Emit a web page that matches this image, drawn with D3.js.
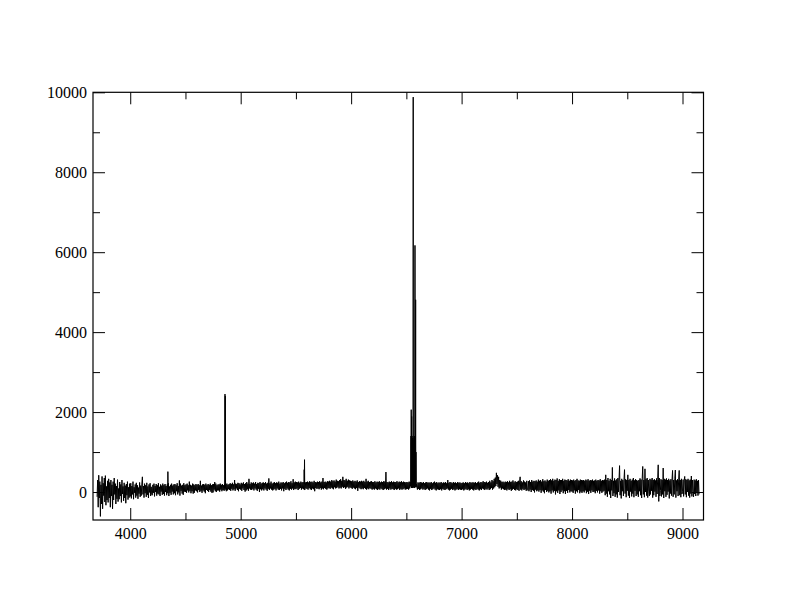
<!DOCTYPE html>
<html><head><meta charset="utf-8">
<script src="https://cdn.jsdelivr.net/npm/d3@7"></script>
<style>
html,body{margin:0;padding:0;background:#fff;}
svg{display:block;}
</style></head><body>
<svg id="c" width="792" height="612"></svg>
<script>
// ---- data ----
const xMajorTicks = [4000, 5000, 6000, 7000, 8000, 9000];
const xMinorTicks = [4500, 5500, 6500, 7500, 8500];
const yMajorTicks = [0, 2000, 4000, 6000, 8000, 10000];
const yMinorTicks = [1000, 3000, 5000, 7000, 9000];

// continuum sampled every 5 Å from 3700 Å (one row = 100 Å)
const specStart = 3700, specStep = 5;
const flux = [
 -120,300,-380,420,-150,260,-610,180,-300,390,-420,220,-90,350,-250,410,-330,140,-200,280,
 -260,330,-150,240,-380,300,-100,180,-420,260,-200,350,-60,210,-300,150,-170,310,-240,90,
 -180,250,-100,190,-260,300,-50,140,-220,230,-150,160,-280,200,-80,260,-190,120,-140,210,
 -110,220,-160,150,-60,260,-180,120,-20,190,-140,230,-90,170,-170,110,-40,240,-120,160,
 -90,200,380,-60,150,-140,210,-30,170,-120,230,-70,140,-150,190,-10,220,-100,130,-60,
 -80,180,-20,210,-110,150,0,200,-90,170,-40,220,-60,130,-100,190,10,160,-70,210,
 -50,170,-90,200,0,150,-80,190,-30,220,-100,140,-20,180,-70,210,10,160,-60,190,
 -30,200,-80,170,20,220,-60,150,-10,290,-90,210,30,160,-40,180,-70,220,10,170,
 0,190,-20,210,40,170,-10,260,30,180,-30,160,20,210,-40,190,-20,170,40,200,
 20,180,-10,200,50,170,0,280,30,160,-20,190,40,200,10,180,-30,210,50,170,
 30,200,0,180,50,210,10,170,-20,190,-10,200,60,250,20,210,0,170,40,190,
 40,190,10,210,60,180,20,200,50,170,30,200,60,190,20,210,40,180,70,200,
 50,220,30,200,80,230,40,190,70,300,30,210,90,200,50,230,20,220,80,190,
 60,230,30,210,90,240,50,200,10,220,40,250,70,210,30,330,90,200,60,240,
 50,220,80,240,40,210,90,250,60,200,30,230,80,220,0,250,70,210,40,230,
 70,240,40,220,90,250,60,210,30,230,80,340,50,220,90,260,60,210,40,230,
 60,250,80,220,40,240,90,230,60,260,50,210,80,240,40,230,90,250,20,220,
 80,240,50,260,90,230,60,250,40,240,80,270,60,220,90,320,50,240,80,260,
 70,250,90,240,50,260,80,230,100,260,60,240,90,250,70,270,50,240,90,250,
 80,260,60,240,100,270,70,250,50,260,90,240,70,280,20,250,100,240,80,260,
 90,250,70,270,100,240,60,260,90,350,70,250,100,260,80,240,60,270,90,260,
 100,280,80,260,110,300,90,270,70,290,120,260,90,310,100,280,130,270,90,300,
 110,320,90,280,130,380,100,300,120,290,80,330,110,280,130,310,90,290,120,280,
 100,270,80,290,110,260,90,280,70,260,100,290,30,250,110,270,90,260,70,280,
 90,260,70,280,100,250,80,330,60,260,90,280,70,250,100,260,80,270,60,250,
 80,250,60,270,90,240,70,260,50,250,80,270,60,240,90,260,70,250,50,270,
 70,260,90,500,60,250,80,240,50,260,90,250,60,270,80,240,70,260,50,250,
 80,250,60,270,70,240,90,260,50,250,80,270,60,240,70,260,90,250,60,240,
 70,250,80,240,60,260,90,250,150,150,1300,130,1400,120,1350,140,1400,1200,200,150,
 60,240,80,230,50,250,70,240,90,230,60,250,80,220,50,240,70,250,90,230,
 60,240,40,230,80,250,50,220,70,240,90,260,60,230,40,250,70,220,60,240,
 50,230,70,250,40,220,80,240,60,230,50,250,70,220,90,300,60,230,40,250,
 60,240,80,220,50,250,70,230,40,240,60,220,80,250,50,230,70,240,60,220,
 50,230,70,240,40,220,60,250,80,230,50,240,70,220,40,250,60,230,80,240,
 60,240,40,230,70,250,50,220,80,240,60,260,40,230,70,250,50,240,90,270,
 70,250,50,240,80,260,60,230,90,250,50,280,70,240,100,300,60,270,90,330,
 120,360,150,480,200,420,130,380,90,300,110,280,60,250,90,260,70,240,50,260,
 60,250,40,270,80,240,50,280,70,250,30,260,60,290,80,240,50,270,40,250,
 70,260,50,280,30,250,380,60,270,40,240,80,290,50,260,70,240,30,280,60,
 40,270,20,290,60,250,0,300,50,260,30,280,-10,270,60,290,20,260,40,310,
 10,280,50,300,-20,260,40,320,10,270,-30,290,50,260,0,310,30,280,-10,300,
 20,320,-40,290,40,330,-10,280,30,310,-60,300,20,340,-20,280,40,320,-50,300,
 0,300,40,330,-30,280,20,310,-50,300,30,290,-20,320,50,280,-10,310,20,300,
 10,290,-20,310,40,280,-40,300,20,330,-10,290,50,280,-30,310,10,300,-20,290,
 20,300,-10,280,40,310,-30,290,10,320,-50,280,30,300,-20,290,40,310,0,280,
 10,290,-30,310,30,280,-10,300,40,290,-40,320,20,280,-20,300,10,290,30,310,
 -80,430,-40,300,-120,350,20,280,-60,330,-150,300,40,615,-100,280,-30,340,-120,290,
 -60,320,-140,350,0,300,660,-80,280,-160,330,20,300,-100,290,560,-40,320,-130,300,
 30,430,-90,300,-150,330,10,280,-110,310,-40,350,-130,290,30,320,-100,300,-60,280,
 -120,300,20,340,-80,310,-150,330,640,-60,300,-130,580,0,320,-90,350,-140,300,20,
 -100,330,-60,310,30,350,-140,300,-80,320,10,290,-120,340,-50,310,680,-235,350,-100,
 40,320,-110,300,-60,600,-150,330,20,310,-120,340,-70,300,10,330,-160,290,-40,320,
 -90,310,540,-120,300,-60,330,550,-140,290,20,320,-100,310,540,-80,300,-130,330,-50,
 10,310,-110,290,390,-60,320,-130,300,0,330,-90,290,-140,310,-40,400,-110,300,20,
 -120,310,-50,290,-100,320,0,280,-90,300,-60
];

// emission / sky lines sampled finer: [wavelength, flux]
const hGammaPts = [[4339, 90], [4341, 510], [4343, 60]];
const hBetaPts = [[4856, 110], [4858, 2450], [4859, 150], [4861, 2400], [4863, 120]];
const skyPts = [[5572, 150], [5575, 560], [5576, 200], [5578, 810], [5580, 160]];
const hAlphaPts = [
 [6542, 1400], [6543, 120], [6544, 2060], [6546, 1300], [6547, 100], [6548, 1890],
 [6549, 150], [6551, 1400], [6552, 120], [6553, 1300], [6556, 100], [6558, 1350],
 [6559, 150], [6561, 1400], [6562, 9880], [6563, 120], [6566, 110], [6568, 1300],
 [6569, 140], [6571, 1400], [6572, 100], [6574, 1350], [6576, 130], [6577, 1400],
 [6578, 6170], [6579, 150], [6581, 1400], [6582, 120], [6584, 4810], [6586, 150],
 [6587, 1000], [6589, 120]
];

// ---- build series ----
const pts = flux.map((v, i) => [specStart + i * specStep, v])
  .concat(hGammaPts, hBetaPts, skyPts, hAlphaPts)
  .sort((a, b) => a[0] - b[0]);

const svg = d3.select("#c");
const L = 93, R = 703.5, T = 92.3, B = 520;
const x = d3.scaleLinear().domain([3663, 9190]).range([L, R]);
const y = d3.scaleLinear().domain([-700, 10000]).range([B, T]);

const line = d3.line().x(d => x(d[0])).y(d => y(d[1]));
svg.append("path").datum(pts)
  .attr("d", line).attr("fill", "none").attr("stroke", "#000").attr("stroke-width", 1);

// axes
const FONT = '"Liberation Serif", "Times New Roman", "DejaVu Serif", serif';
function styleAx(g) {
  g.attr("font-family", FONT).attr("font-size", 16);
  g.select(".domain").remove();
  g.selectAll(".tick line").attr("stroke", "#000").attr("stroke-width", 1);
  g.selectAll(".tick text").attr("fill", "#000").style("font-family", FONT);
}
svg.append("g").attr("transform", `translate(0,${B})`)
  .call(d3.axisBottom(x).tickValues(xMajorTicks).tickSize(-12).tickPadding(8).tickFormat(d3.format("d")))
  .call(styleAx);
svg.append("g").attr("transform", `translate(0,${B})`)
  .call(d3.axisBottom(x).tickValues(xMinorTicks).tickSize(-7).tickFormat(""))
  .call(styleAx);
svg.append("g").attr("transform", `translate(0,${T})`)
  .call(d3.axisTop(x).tickValues(xMajorTicks).tickSize(-12).tickFormat(""))
  .call(styleAx);
svg.append("g").attr("transform", `translate(0,${T})`)
  .call(d3.axisTop(x).tickValues(xMinorTicks).tickSize(-7).tickFormat(""))
  .call(styleAx);
svg.append("g").attr("transform", `translate(${L},0)`)
  .call(d3.axisLeft(y).tickValues(yMajorTicks).tickSize(-12).tickPadding(6).tickFormat(d3.format("d")))
  .call(styleAx);
svg.append("g").attr("transform", `translate(${L},0)`)
  .call(d3.axisLeft(y).tickValues(yMinorTicks).tickSize(-7).tickFormat(""))
  .call(styleAx);
svg.append("g").attr("transform", `translate(${R},0)`)
  .call(d3.axisRight(y).tickValues(yMajorTicks).tickSize(-12).tickFormat(""))
  .call(styleAx);
svg.append("g").attr("transform", `translate(${R},0)`)
  .call(d3.axisRight(y).tickValues(yMinorTicks).tickSize(-7).tickFormat(""))
  .call(styleAx);

svg.append("rect").attr("x", L).attr("y", T).attr("width", R - L).attr("height", B - T)
  .attr("fill", "none").attr("stroke", "#000").attr("stroke-width", 1.2);
</script>
</body></html>
